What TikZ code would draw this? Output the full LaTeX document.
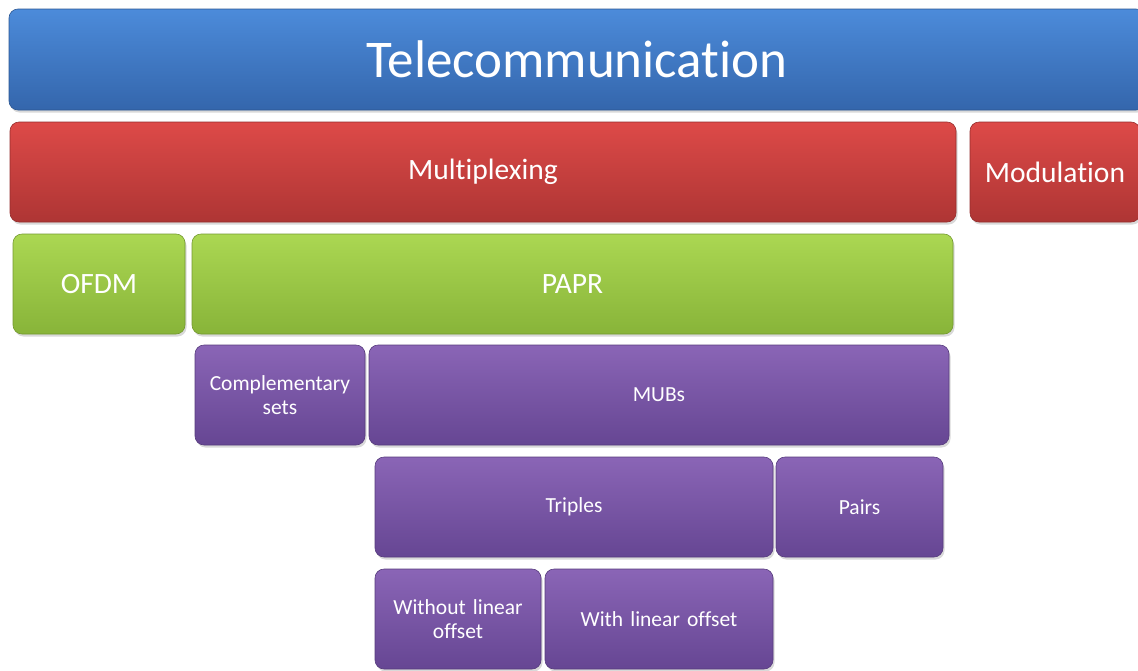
\documentclass[tikz,border=0pt]{standalone}
\usepackage{fontspec}
\setmainfont[Ligatures=NoCommon]{Carlito}
\usetikzlibrary{shadows}
\definecolor{bluetop}{HTML}{4C8BDA}
\definecolor{bluebot}{HTML}{3466AC}
\definecolor{redtop}{HTML}{DD4A48}
\definecolor{redbot}{HTML}{AE3534}
\definecolor{greentop}{HTML}{ABD752}
\definecolor{greenbot}{HTML}{88B439}
\definecolor{purpletop}{HTML}{8A65B6}
\definecolor{purplebot}{HTML}{664693}
\newcommand{\hugesize}{\fontsize{53}{60}\selectfont}
\newcommand{\midsize}{\fontsize{29.5}{34}\selectfont}
\newcommand{\smallsize}{\fontsize{21.5}{24}\selectfont}
\tikzset{
    block/.style={rounded corners=9pt, top color=#1top, bottom color=#1bot,
        draw=#1bot!85!black, line width=0.6pt, text=white, align=center, inner sep=2pt,
        drop shadow={opacity=0.3, shadow xshift=1.5pt, shadow yshift=-2.5pt}},
}
% name, colour, font, centre, width, height, text
\newcommand{\drawblock}[7]{
    \node[block=#2, font=#3, minimum width=#5pt, minimum height=#6pt, text width=#5pt-14pt] (#1) at (#4) {#7};
}

\begin{document}
\begin{tikzpicture}[x=1pt, y=-1pt]
    \useasboundingbox (0,0) rectangle (1138,670);
    \clip (0,0) rectangle (1138,670);
    % top level
    \drawblock{telecom}{blue}{\hugesize}{577,59.5}{1136}{101}{Telecommunication}
    % second level
    \drawblock{multiplex}{red}{\midsize}{483,172}{946}{100}{Multiplexing}
    \drawblock{modul}{red}{\midsize}{1055,172}{170}{100}{Modulation}
    % third level
    \drawblock{ofdm}{green}{\midsize}{99,284}{172}{100}{OFDM}
    \drawblock{papr}{green}{\midsize}{572.5,284}{761}{100}{PAPR}
    % sequences
    \drawblock{compl}{purple}{\smallsize}{280,395}{170}{100}{Complementary\\sets}
    \drawblock{mubs}{purple}{\smallsize}{659,395}{580}{100}{MUBs}
    \drawblock{triples}{purple}{\smallsize}{574,507}{398}{100}{Triples}
    \drawblock{pairs}{purple}{\smallsize}{859.5,507}{167}{100}{Pairs}
    \drawblock{without}{purple}{\smallsize}{458,619}{166}{100}{Without linear\\offset}
    \drawblock{withlin}{purple}{\smallsize}{659,619}{228}{100}{With linear offset}
\end{tikzpicture}
\end{document}
